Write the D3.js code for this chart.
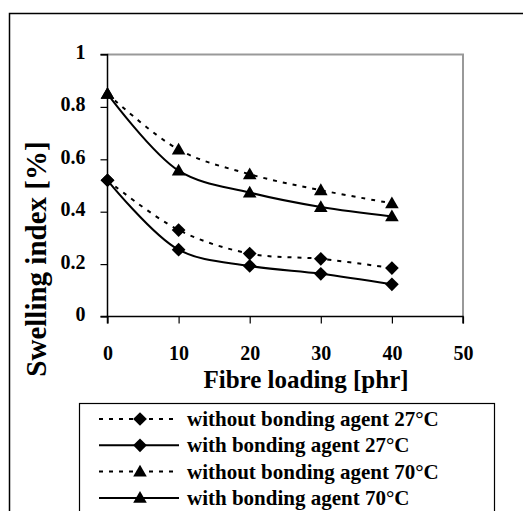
<!DOCTYPE html>
<html>
<head>
<meta charset="utf-8">
<script src="https://cdn.jsdelivr.net/npm/d3@7"></script>
<style>
  body { margin: 0; background: #fff; }
  text { font-family: "Liberation Serif", "Times New Roman", serif; font-weight: bold; fill: #000; }
</style>
</head>
<body>
<svg id="chart" width="523" height="511"></svg>
<script>
const fibre = [0, 10, 20, 30, 40];
const without27 = [0.52, 0.33, 0.24, 0.22, 0.185];
const with27 = [0.52, 0.255, 0.193, 0.163, 0.123];
const without70 = [0.85, 0.637, 0.543, 0.482, 0.432];
const with70 = [0.85, 0.557, 0.473, 0.418, 0.382];

const xTicks = [0, 10, 20, 30, 40, 50];
const yTicks = [0, 0.2, 0.4, 0.6, 0.8, 1];

const series = [
  { name: "without bonding agent 27°C", values: without27, dashed: true, marker: "diamond" },
  { name: "with bonding agent 27°C", values: with27, dashed: false, marker: "diamond" },
  { name: "without bonding agent 70°C", values: without70, dashed: true, marker: "triangle" },
  { name: "with bonding agent 70°C", values: with70, dashed: false, marker: "triangle" }
];

const svg = d3.select("#chart");

// outer frame (runs off the right and bottom edges)
svg.append("rect")
  .attr("x", 9.5).attr("y", 13.5)
  .attr("width", 530).attr("height", 520)
  .attr("fill", "none").attr("stroke", "#000").attr("stroke-width", 1.5);

const x = d3.scaleLinear().domain([0, 50]).range([107.5, 463]);
const y = d3.scaleLinear().domain([0, 1]).range([316.5, 54.5]);

// plot area border (gray top/right)
svg.append("path")
  .attr("d", `M${x(0)},${y(1)}H${x(50)}V${y(0)}`)
  .attr("fill", "none").attr("stroke", "#999").attr("stroke-width", 2);

// axes
const yAxis = svg.append("g")
  .attr("transform", `translate(${x(0)},0)`)
  .call(d3.axisLeft(y).tickValues(yTicks).tickSize(7).tickPadding(15)
    .tickFormat(d => d === 0 || d === 1 ? d3.format("d")(d) : d3.format(".1f")(d)));
const xAxis = svg.append("g")
  .attr("transform", `translate(0,${y(0)})`)
  .call(d3.axisBottom(x).tickValues(xTicks).tickSize(7).tickPadding(22).tickFormat(d3.format("d")));

[yAxis, xAxis].forEach(a => {
  a.select(".domain").attr("stroke", "#000").attr("stroke-width", 1.5);
  a.selectAll(".tick line").attr("stroke", "#000").attr("stroke-width", 1.2);
  a.selectAll(".tick text")
    .attr("fill", "#000")
    .style("font-family", '"Liberation Serif", serif')
    .style("font-weight", "bold")
    .style("font-size", "20px");
});
xAxis.select(".domain").attr("d", `M${x(0)},7V0H${x(50)}V7`);
yAxis.select(".domain").attr("d", `M-7,${y(0)}H0V${y(1)}H-7`);
yAxis.selectAll(".tick text").attr("dy", "0.2em");

// axis titles
svg.append("text")
  .attr("x", 306).attr("y", 388)
  .attr("text-anchor", "middle")
  .style("font-size", "25px")
  .text("Fibre loading [phr]");

svg.append("text")
  .attr("transform", "translate(46,259) rotate(-90)")
  .attr("text-anchor", "middle")
  .style("font-size", "29px")
  .text("Swelling index [%]");

const diamond = d3.symbol().type(d3.symbolDiamond2).size(120);
const triangle = d3.symbol().type(d3.symbolTriangle).size(80);
const markerPath = m => m === "diamond" ? diamond() : triangle();

const line = d3.line()
  .x((d, i) => x(fibre[i]))
  .y(d => y(d))
  .curve(d3.curveCatmullRom.alpha(0.5));

series.forEach(s => {
  svg.append("path")
    .datum(s.values)
    .attr("d", line)
    .attr("fill", "none")
    .attr("stroke", "#000")
    .attr("stroke-width", 2)
    .attr("stroke-dasharray", s.dashed ? "4,6" : null);

  svg.append("g").selectAll("path")
    .data(s.values)
    .join("path")
    .attr("transform", (d, i) => `translate(${x(fibre[i])},${y(d) + (s.marker === "triangle" ? 1 : 0)})`)
    .attr("d", markerPath(s.marker))
    .attr("fill", "#000");
});

// legend
const legend = svg.append("g");
legend.append("rect")
  .attr("x", 79.5).attr("y", 403.5)
  .attr("width", 415).attr("height", 140)
  .attr("fill", "#fff").attr("stroke", "#000").attr("stroke-width", 1.2);

series.forEach((s, i) => {
  const ly = 419 + i * 26.3;
  legend.append("line")
    .attr("x1", 99).attr("x2", 179)
    .attr("y1", ly).attr("y2", ly)
    .attr("stroke", "#000").attr("stroke-width", 2)
    .attr("stroke-dasharray", s.dashed ? "4,6" : null);
  legend.append("path")
    .attr("transform", `translate(140,${ly + (s.marker === "triangle" ? 1 : 0)})`)
    .attr("d", markerPath(s.marker))
    .attr("fill", "#000");
  legend.append("text")
    .attr("x", 187).attr("y", ly + 7)
    .style("font-size", "21px")
    .text(s.name);
});
</script>
</body>
</html>
